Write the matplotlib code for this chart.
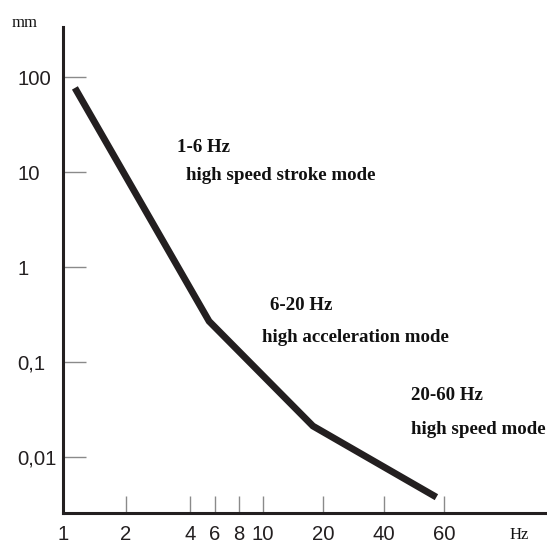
import numpy as np
import matplotlib
matplotlib.use("Agg")
import matplotlib.pyplot as plt

# ---- data ----
freq_hz = [1.14, 5.45, 17.8, 57.0]          # line vertices (Hz)
amplitude_mm = [77.0, 0.27, 0.0213, 0.0038]  # line vertices (mm)

x_ticks = [1, 2, 4, 6, 8, 10, 20, 40, 60]
x_tick_labels = ["1", "2", "4", "6", "8", "10", "20", "40", "60"]
y_ticks = [100, 10, 1, 0.1, 0.01]
y_tick_labels = ["100", "10", "1", "0,1", "0,01"]

mode_ranges = ["1-6 Hz", "6-20 Hz", "20-60 Hz"]
mode_names = ["high speed stroke mode", "high acceleration mode", "high speed mode"]

# ---- figure ----
W, H = 547, 543
fig = plt.figure(figsize=(W / 100, H / 100), dpi=100)
ax_left, ax_right, ax_top, ax_bottom = 63, 547, 27, 513
ax = fig.add_axes([ax_left / W, (H - ax_bottom) / H,
                   (ax_right - ax_left) / W, (ax_bottom - ax_top) / H])

# hand-drawn log-like x axis: tick pixel positions of the original
_tick_log = np.log10([0.1] + x_ticks + [1000])
_tick_pix = np.array([-137, 63, 126, 190, 215, 239, 263, 323, 384, 444, 688], float)

def _fwd(x):
    x = np.maximum(np.asarray(x, float), 1e-6)
    return np.interp(np.log10(x), _tick_log, _tick_pix)

def _inv(p):
    return 10 ** np.interp(np.asarray(p, float), _tick_pix, _tick_log)

ax.set_xscale("function", functions=(_fwd, _inv))
ax.set_yscale("log")
ax.set_xlim(1, float(_inv(547)))
ax.set_ylim(0.00259, 337)

line_col = "#231f20"
ax.plot(freq_hz, amplitude_mm, color=line_col, lw=4.9,
        solid_capstyle="butt", solid_joinstyle="miter", clip_on=False)

for s in ["top", "right"]:
    ax.spines[s].set_visible(False)
for s in ["left", "bottom"]:
    ax.spines[s].set_color("#231f20")
    ax.spines[s].set_linewidth(2.2)

ax.minorticks_off()
ax.set_xticks(x_ticks)
ax.set_xticklabels(x_tick_labels)
ax.set_yticks(y_ticks)
ax.set_yticklabels(y_tick_labels)
ax.minorticks_off()

ax.tick_params(axis="x", direction="in", length=12.5, width=1.0,
               color="#8a8a8a", pad=9.0, labelcolor="#231f20",
               labelsize=14.6)
ax.tick_params(axis="y", direction="in", length=16.5, width=1.0,
               color="#8a8a8a", pad=33, labelcolor="#231f20",
               labelsize=14.6)
for lab in ax.get_xticklabels() + ax.get_yticklabels():
    lab.set_family("Liberation Sans")
for lab in ax.get_yticklabels():
    lab.set_horizontalalignment("left")

# axis unit labels
fig.text(12 / W, 1 - 23 / H, "mm", family="Liberation Serif", size=12,
         color="#111111", ha="left", va="center")
fig.text(519 / W, 1 - 539 / H, "Hz", family="Liberation Serif", size=12,
         color="#111111", ha="center", va="baseline")

# mode annotations
range_pos = [(177, 148), (270, 306), (411, 396)]
name_pos = [(186, 175), (262, 338), (411, 430)]
for txt, (px, py) in zip(mode_ranges, range_pos):
    fig.text(px / W, 1 - py / H, txt, family="Liberation Serif", size=13.6,
             weight="bold", color="#111111", ha="left", va="center")
for txt, (px, py) in zip(mode_names, name_pos):
    fig.text(px / W, 1 - py / H, txt, family="Liberation Serif", size=13.6,
             weight="bold", color="#111111", ha="left", va="center")

fig.savefig("out.png", dpi=100, facecolor="white")
